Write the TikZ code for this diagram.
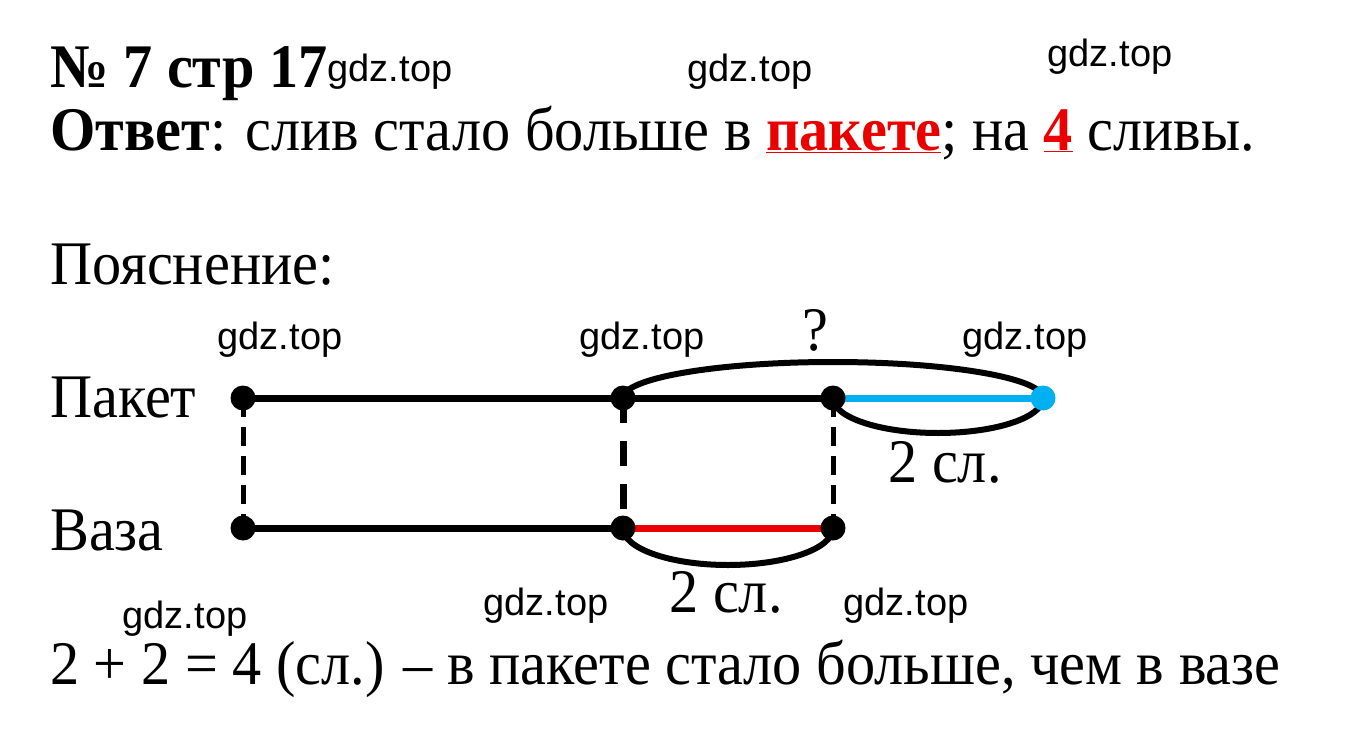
\documentclass[tikz,border=0pt]{standalone}
\usepackage{graphicx}
\usepackage{fontspec}
\setmainfont{Liberation Serif}
\newfontfamily\wmfont{Liberation Sans}
\definecolor{skyb}{RGB}{0,176,240}
\definecolor{redl}{RGB}{235,0,0}
\newcommand\hsq[1]{\scalebox{0.94}[1]{#1}}
\begin{document}
\begin{tikzpicture}[x=1pt,y=-1pt,
  txt/.style={inner sep=0pt,anchor=base west,font=\fontsize{62}{64}\selectfont},
  wm/.style={inner sep=0pt,anchor=center,font=\wmfont\fontsize{38}{40}\selectfont},
  dot/.style={circle,fill=black,inner sep=0pt,minimum size=25pt},
  bdot/.style={circle,fill=skyb,inner sep=0pt,minimum size=25pt},
  seg/.style={line width=7pt},
  loopc/.style={line width=6pt},
  vdash/.style={line width=5pt,dash pattern=on 19pt off 10pt},
  vdashb/.style={line width=7pt,dash pattern=on 25pt off 18pt}]
\useasboundingbox (0,0) rectangle (1364,741);
% texts
\node[txt] (title) at (50,88) {\hsq{\bfseries № 7 стр 17}};
\node[txt] (ans) at (50,150) {\hsq{\textbf{Ответ}: слив стало больше в \textcolor{redl}{\textbf{\underline{пакете}}}; на \textcolor{redl}{\textbf{\underline{4}}} сливы.}};
\node[txt] (expl) at (50,284) {\hsq{Пояснение:}};
\node[txt] (lp) at (50,417) {\hsq{Пакет}};
\node[txt] (lv) at (50,550) {\hsq{Ваза}};
\node[txt] (calc) at (50,684) {\hsq{2 + 2 = 4 (сл.) – в пакете стало больше, чем в вазе}};
\node[txt,anchor=base] (q) at (815,350) {\hsq{?}};
\node[txt,anchor=base] (t1) at (945,482) {\hsq{2 сл.}};
\node[txt,anchor=base] (t2) at (726,612) {\hsq{2 сл.}};
% watermarks
\node[wm] (w1) at (390,72) {gdz.top};
\node[wm] (w2) at (750,72) {gdz.top};
\node[wm] (w3) at (1110,57) {gdz.top};
\node[wm] (w4) at (280,340) {gdz.top};
\node[wm] (w5) at (642,340) {gdz.top};
\node[wm] (w6) at (1025,340) {gdz.top};
\node[wm] (w7) at (185,619) {gdz.top};
\node[wm] (w8) at (546,606) {gdz.top};
\node[wm] (w9) at (906,606) {gdz.top};
% points
\coordinate (p1) at (243,398);
\coordinate (p2) at (623,398);
\coordinate (p3) at (833,398);
\coordinate (p4) at (1043,398);
\coordinate (v1) at (243,528);
\coordinate (v2) at (623,528);
\coordinate (v3) at (833,528);
% dashed verticals
\draw[vdash] (p1) -- (v1);
\draw[vdashb] (p2) -- (v2);
\draw[vdash] (p3) -- (v3);
% segments
\draw[seg] (p1) -- (p3);
\draw[seg,skyb] (p3) -- (p4);
\draw[seg] (v1) -- (v2);
\draw[seg,redl] (v2) -- (v3);
% loops
\draw[loopc] (p2) arc[start angle=180,end angle=360,x radius=210,y radius=36];
\draw[loopc] (p3) arc[start angle=180,end angle=0,x radius=105,y radius=35];
\draw[loopc] (v2) arc[start angle=180,end angle=0,x radius=105,y radius=37];
% dots
\node[dot] (n1) at (p1) {};
\node[dot] (n2) at (p2) {};
\node[dot] (n3) at (p3) {};
\node[bdot] (n4) at (p4) {};
\node[dot] (m1) at (v1) {};
\node[dot] (m2) at (v2) {};
\node[dot] (m3) at (v3) {};
\end{tikzpicture}
\end{document}
